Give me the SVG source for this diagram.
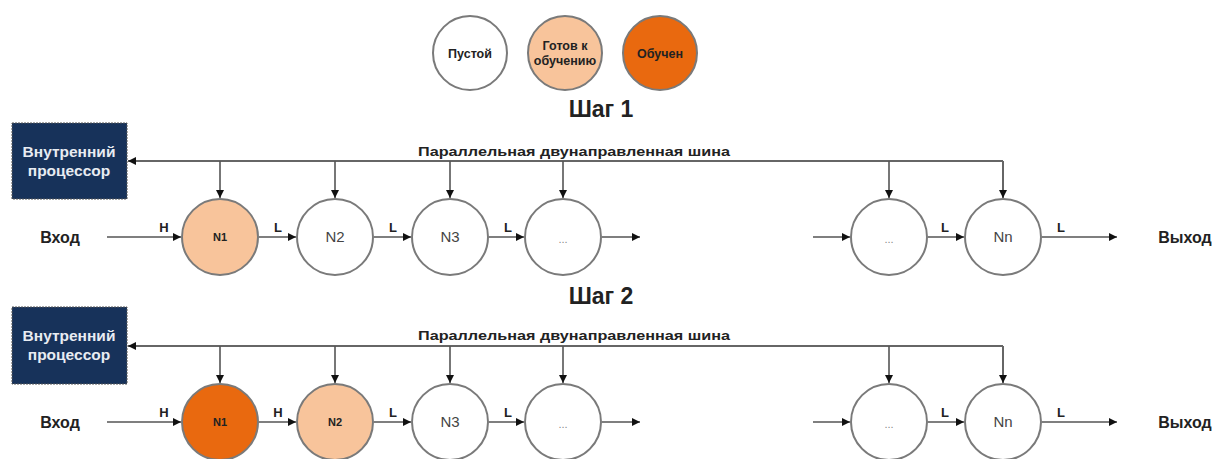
<svg xmlns="http://www.w3.org/2000/svg" width="1214" height="459" viewBox="0 0 1214 459">
<defs>
<marker id="ah" viewBox="0 0 10 10" refX="10" refY="5" markerWidth="9" markerHeight="8" markerUnits="userSpaceOnUse" orient="auto">
<path d="M0,0 L10,5 L0,10 Z" fill="#111"/>
</marker>
</defs>
<style>
.bg{fill:#fff}
.c{stroke:#7a7a7a;stroke-width:2}
.e{fill:#fff}
.r{fill:#f8c49b}
.t{fill:#e9690f}
.ln{fill:none;stroke:#555;stroke-width:1.6;marker-end:url(#ah)}
.bus{fill:none;stroke:#666;stroke-width:2}
.txt{font-family:"Liberation Sans",Arial,sans-serif;fill:#222;text-anchor:middle}
.b{font-weight:bold}
.proc{fill:#17325a;stroke:#555;stroke-width:1;stroke-dasharray:2 1}
.pt{font-family:"Liberation Sans",Arial,sans-serif;font-weight:bold;font-size:15.5px;fill:#e8ecf2;text-anchor:middle}
.nl{font-family:"Liberation Sans",Arial,sans-serif;font-size:15px;fill:#444;text-anchor:middle}
.lab{font-family:"Liberation Sans",Arial,sans-serif;font-weight:bold;font-size:13px;fill:#222;text-anchor:middle}
.io{font-family:"Liberation Sans",Arial,sans-serif;font-weight:bold;font-size:16px;fill:#222;text-anchor:middle}
.lg{font-family:"Liberation Sans",Arial,sans-serif;font-weight:bold;font-size:12.5px;fill:#222;text-anchor:middle}
.nb{font-family:"Liberation Sans",Arial,sans-serif;font-weight:bold;font-size:11px;fill:#222;text-anchor:middle}
.dots{font-family:"Liberation Sans",Arial,sans-serif;font-size:11px;fill:#888;text-anchor:middle}
</style>
<rect class="bg" x="0" y="0" width="1214" height="459"/>

<g id="legend">
<g id="leg-empty"><circle class="c e" cx="470" cy="53" r="37"/><text class="lg" x="470" y="58">Пустой</text></g>
<g id="leg-ready"><circle class="c r" cx="565" cy="53" r="37"/><text class="lg" x="565" y="50">Готов к</text><text class="lg" x="565" y="65">обучению</text></g>
<g id="leg-trained"><circle class="c t" cx="660" cy="53" r="37"/><text class="lg" x="660" y="58">Обучен</text></g>
</g>

<g id="step1-title"><text class="txt b" x="601" y="117" font-size="23">Шаг 1</text></g>
<g id="step2-title"><text class="txt b" x="601" y="304" font-size="23">Шаг 2</text></g>

<!-- Step 1 -->
<g id="s1-proc"><rect class="proc" x="12" y="123" width="115" height="76"/><text class="pt" x="69" y="157">Внутренний</text><text class="pt" x="69" y="176">процессор</text></g>
<g id="s1-in"><text class="io" x="60" y="243">Вход</text></g>
<g id="s1-out"><text class="io" x="1185" y="243">Выход</text></g>
<g id="s1-n1"><circle class="c r" cx="220" cy="237" r="38"/><text class="nb" x="220" y="241">N1</text></g>
<g id="s1-n2"><circle class="c e" cx="335" cy="237" r="38"/><text class="nl" x="335" y="242">N2</text></g>
<g id="s1-n3"><circle class="c e" cx="450" cy="237" r="38"/><text class="nl" x="450" y="242">N3</text></g>
<g id="s1-d1"><circle class="c e" cx="563" cy="237" r="38"/><text class="dots" x="563" y="243">...</text></g>
<g id="s1-d2"><circle class="c e" cx="889" cy="237" r="38"/><text class="dots" x="889" y="243">...</text></g>
<g id="s1-nn"><circle class="c e" cx="1003" cy="237" r="38"/><text class="nl" x="1003" y="242">Nn</text></g>
<g id="s1-buslabel"><text class="txt b" x="574" y="156" font-size="13" textLength="312" lengthAdjust="spacingAndGlyphs">Параллельная двунаправленная шина</text></g>

<!-- Step 2 -->
<g id="s2-proc"><rect class="proc" x="12" y="307" width="115" height="77"/><text class="pt" x="69" y="341">Внутренний</text><text class="pt" x="69" y="360">процессор</text></g>
<g id="s2-in"><text class="io" x="60" y="428">Вход</text></g>
<g id="s2-out"><text class="io" x="1185" y="428">Выход</text></g>
<g id="s2-n1"><circle class="c t" cx="220" cy="422" r="38"/><text class="nb" x="220" y="426">N1</text></g>
<g id="s2-n2"><circle class="c r" cx="335" cy="422" r="38"/><text class="nb" x="335" y="426">N2</text></g>
<g id="s2-n3"><circle class="c e" cx="450" cy="422" r="38"/><text class="nl" x="450" y="427">N3</text></g>
<g id="s2-d1"><circle class="c e" cx="563" cy="422" r="38"/><text class="dots" x="563" y="428">...</text></g>
<g id="s2-d2"><circle class="c e" cx="889" cy="422" r="38"/><text class="dots" x="889" y="428">...</text></g>
<g id="s2-nn"><circle class="c e" cx="1003" cy="422" r="38"/><text class="nl" x="1003" y="427">Nn</text></g>
<g id="s2-buslabel"><text class="txt b" x="574" y="340" font-size="13" textLength="312" lengthAdjust="spacingAndGlyphs">Параллельная двунаправленная шина</text></g>

<g id="connectors">
<!-- step 1 bus -->
<path class="bus" d="M1003,161 L128,161" marker-end="url(#ah)"/>
<path class="bus" d="M1003,161 L1003,198" marker-end="url(#ah)"/>
<path class="ln" d="M220,161 L220,198"/>
<path class="ln" d="M335,161 L335,198"/>
<path class="ln" d="M450,161 L450,198"/>
<path class="ln" d="M563,161 L563,198"/>
<path class="ln" d="M889,161 L889,198"/>
<!-- step 1 chain -->
<path class="ln" d="M107,237 L181,237"/>
<path class="ln" d="M259,237 L296,237"/>
<path class="ln" d="M374,237 L411,237"/>
<path class="ln" d="M489,237 L524,237"/>
<path class="ln" d="M602,237 L640,237"/>
<path class="ln" d="M813,237 L850,237"/>
<path class="ln" d="M928,237 L964,237"/>
<path class="ln" d="M1042,237 L1117,237"/>
<text class="lab" x="164" y="232">H</text>
<text class="lab" x="278" y="232">L</text>
<text class="lab" x="393" y="232">L</text>
<text class="lab" x="508" y="232">L</text>
<text class="lab" x="945" y="232">L</text>
<text class="lab" x="1061" y="232">L</text>

<!-- step 2 bus -->
<path class="bus" d="M1003,346 L128,346" marker-end="url(#ah)"/>
<path class="bus" d="M1003,346 L1003,383" marker-end="url(#ah)"/>
<path class="ln" d="M220,346 L220,383"/>
<path class="ln" d="M335,346 L335,383"/>
<path class="ln" d="M450,346 L450,383"/>
<path class="ln" d="M563,346 L563,383"/>
<path class="ln" d="M889,346 L889,383"/>
<!-- step 2 chain -->
<path class="ln" d="M107,422 L181,422"/>
<path class="ln" d="M259,422 L296,422"/>
<path class="ln" d="M374,422 L411,422"/>
<path class="ln" d="M489,422 L524,422"/>
<path class="ln" d="M602,422 L640,422"/>
<path class="ln" d="M813,422 L850,422"/>
<path class="ln" d="M928,422 L964,422"/>
<path class="ln" d="M1042,422 L1117,422"/>
<text class="lab" x="164" y="417">H</text>
<text class="lab" x="278" y="417">H</text>
<text class="lab" x="393" y="417">L</text>
<text class="lab" x="508" y="417">L</text>
<text class="lab" x="945" y="417">L</text>
<text class="lab" x="1061" y="417">L</text>
</g>
</svg>
